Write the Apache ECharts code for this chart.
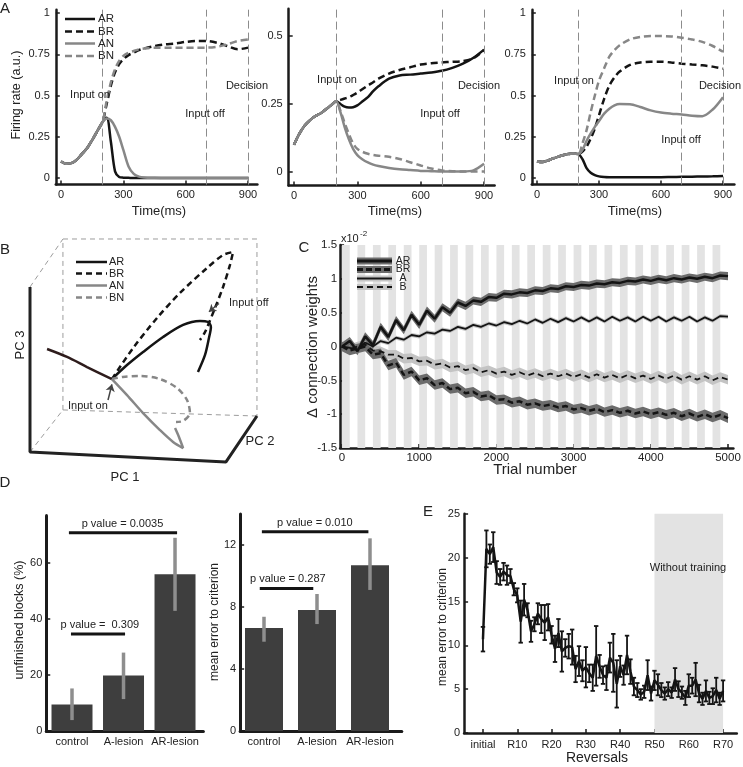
<!DOCTYPE html>
<html>
<head>
<meta charset="utf-8">
<script src="https://cdn.jsdelivr.net/npm/echarts@6.0.0/dist/echarts.min.js"></script>
<style>
html,body{margin:0;padding:0;background:#fff;}
#chart{width:743px;height:767px;}
</style>
</head>
<body>
<div id="chart"></div>
<script>
// ================= DATA =================
// ---- Panel A : firing rate (a.u.) vs time (ms)
const tA = [0,25,50,75,100,125,150,175,200,220,240,260,280,300,325,350,375,400,450,500,550,600,650,700,750,800,850,900];
const eventTimes = [200, 700, 900];
const aTicksX = [0, 300, 600, 900];
const aTicksY1 = [0, 0.25, 0.5, 0.75, 1];
const aTicksY2 = [0, 0.25, 0.5];

const pre1 = [0.10,0.087,0.09,0.11,0.145,0.18,0.23,0.285,0.34];
const a1AR = pre1.concat([0.365,0.22,0.04,0.006,0.002,0.001,0,0,0,0,0,0,0,0,0,0,0,0,0]);
const a1BR = pre1.concat([0.45,0.56,0.64,0.69,0.72,0.745,0.76,0.775,0.785,0.80,0.81,0.815,0.825,0.83,0.83,0.82,0.80,0.78,0.79]);
const a1AN = pre1.concat([0.36,0.35,0.31,0.25,0.17,0.07,0.025,0.008,0.003,0.001,0,0,0,0,0,0,0,0,0]);
const a1BN = pre1.concat([0.47,0.58,0.66,0.71,0.74,0.76,0.77,0.78,0.785,0.79,0.79,0.79,0.79,0.79,0.79,0.795,0.81,0.83,0.84]);

const pre2 = [0.10,0.14,0.17,0.19,0.205,0.215,0.23,0.245,0.26];
const a2AR = pre2.concat([0.25,0.24,0.237,0.238,0.245,0.26,0.275,0.297,0.315,0.343,0.355,0.358,0.362,0.366,0.372,0.383,0.398,0.42,0.45]);
const a2BR = pre2.concat([0.265,0.27,0.275,0.283,0.292,0.305,0.318,0.33,0.343,0.362,0.375,0.385,0.395,0.40,0.403,0.405,0.408,0.418,0.448]);
const a2AN = pre2.concat([0.22,0.165,0.12,0.085,0.062,0.046,0.035,0.027,0.022,0.015,0.01,0.007,0.004,0.003,0.002,0.002,0.002,0.006,0.03]);
const a2BN = pre2.concat([0.225,0.18,0.14,0.105,0.085,0.074,0.067,0.063,0.06,0.056,0.048,0.036,0.024,0.013,0.006,0.003,0.002,0.002,0.002]);

const pre3 = [0.10,0.097,0.105,0.117,0.128,0.138,0.145,0.148,0.145];
const a3AR = pre3.concat([0.115,0.06,0.032,0.018,0.01,0.006,0.005,0.005,0.005,0.005,0.005,0.005,0.005,0.006,0.007,0.008,0.009,0.01,0.012]);
const a3BR = pre3.concat([0.16,0.19,0.24,0.30,0.38,0.48,0.56,0.61,0.645,0.685,0.70,0.705,0.705,0.70,0.693,0.688,0.683,0.675,0.663]);
const a3AN = pre3.concat([0.17,0.225,0.27,0.31,0.345,0.39,0.42,0.44,0.448,0.447,0.43,0.41,0.397,0.39,0.385,0.378,0.375,0.415,0.49]);
const a3BN = pre3.concat([0.21,0.29,0.40,0.50,0.59,0.665,0.735,0.775,0.805,0.84,0.855,0.86,0.86,0.858,0.85,0.84,0.825,0.80,0.765]);

// ---- Panel B : projected PC trajectories [PC1-projection, PC3-projection]
const bPre = [[0.087,0.624],[0.189,0.576],[0.291,0.515],[0.418,0.442]];
const bAR = [[0.418,0.442],[0.495,0.527],[0.577,0.606],[0.679,0.697],[0.781,0.770],[0.867,0.794],[0.908,0.788],[0.923,0.758],[0.913,0.691],[0.893,0.588],[0.857,0.485]];
const bBR = [[0.418,0.442],[0.526,0.630],[0.648,0.812],[0.765,0.964],[0.903,1.115],[0.985,1.194],[1.036,1.212],[1.020,1.133],[0.985,1.0],[0.944,0.873],[0.893,0.727],[0.867,0.679]];
const bAN = [[0.418,0.442],[0.495,0.345],[0.577,0.236],[0.663,0.133],[0.730,0.061],[0.781,0.024],[0.760,0.091],[0.740,0.145]];
const bBN = [[0.418,0.442],[0.474,0.455],[0.561,0.461],[0.663,0.442],[0.750,0.388],[0.801,0.315],[0.816,0.236],[0.781,0.188],[0.745,0.182]];
const bAxes = [[0,1],[0,0],[1,-0.06],[1.158,0.218]];
const bBackBox = [[0.168,0.255],[0.168,1.291],[1.158,1.291],[1.158,0.218]];
const bBackBottom = [[0.168,0.255],[1.158,0.218]];
const bDiagTop = [[0,1],[0.168,1.291]];
const bDiagBottom = [[0,0],[0.168,0.255]];
const bArrowOn = [[0.398,0.315],[0.418,0.41]];
const bArrowOff = [[0.964,0.90],[0.913,0.85]];

// ---- Panel C : Δ connection weights (x10^-2) vs trial number
const tC = [0,100,200,300,400,500,600,700,800,900,1000,1100,1200,1300,1400,1500,1600,1700,1800,1900,2000,2100,2200,2300,2400,2500,2600,2700,2800,2900,3000,3100,3200,3300,3400,3500,3600,3700,3800,3900,4000,4100,4200,4300,4400,4500,4600,4700,4800,4900,5000];
const cAR = [0,0.08,-0.07,0.15,0.02,0.29,0.14,0.39,0.24,0.47,0.32,0.53,0.41,0.58,0.5,0.65,0.6,0.68,0.66,0.73,0.72,0.78,0.77,0.8,0.79,0.83,0.82,0.86,0.85,0.89,0.88,0.91,0.9,0.93,0.92,0.95,0.94,0.97,0.96,0.99,0.97,1.0,0.98,1.01,0.99,1.02,1.0,1.03,1.01,1.05,1.04];
const cBR = [0,-0.06,-0.03,0.0,-0.12,-0.1,-0.28,-0.24,-0.42,-0.37,-0.5,-0.47,-0.57,-0.54,-0.63,-0.61,-0.69,-0.67,-0.74,-0.72,-0.79,-0.78,-0.83,-0.81,-0.86,-0.84,-0.88,-0.86,-0.9,-0.88,-0.93,-0.91,-0.95,-0.92,-0.97,-0.94,-0.98,-0.95,-0.99,-0.96,-1.0,-0.97,-1.01,-0.98,-1.03,-0.99,-1.04,-1.0,-1.05,-1.01,-1.06];
const cA = [0,-0.02,-0.05,0.06,0.0,0.08,0.05,0.13,0.1,0.17,0.15,0.21,0.19,0.25,0.23,0.29,0.26,0.32,0.29,0.34,0.31,0.36,0.33,0.38,0.34,0.4,0.35,0.41,0.36,0.42,0.37,0.43,0.37,0.43,0.37,0.44,0.38,0.43,0.37,0.44,0.38,0.44,0.37,0.43,0.38,0.44,0.37,0.43,0.38,0.45,0.44];
const cB = [0,-0.04,0.0,0.03,-0.06,-0.07,-0.12,-0.12,-0.18,-0.17,-0.22,-0.21,-0.27,-0.25,-0.31,-0.29,-0.35,-0.32,-0.38,-0.35,-0.4,-0.37,-0.42,-0.38,-0.43,-0.39,-0.44,-0.4,-0.44,-0.4,-0.45,-0.41,-0.46,-0.41,-0.46,-0.42,-0.47,-0.42,-0.47,-0.43,-0.48,-0.43,-0.48,-0.43,-0.49,-0.44,-0.49,-0.44,-0.5,-0.45,-0.49];
const cBandAR = 0.06, cBandBR = 0.07, cBandA = 0.03, cBandB = 0.07;
const stripeStarts = [0,200,400,600,800,1000,1200,1400,1600,1800,2000,2200,2400,2600,2800,3000,3200,3400,3600,3800,4000,4200,4400,4600,4800];
const stripeLen = 100;
const cTicksX = [0,1000,2000,3000,4000,5000];
const cTicksY = [-1.5,-1,-0.5,0,0.5,1,1.5];

// ---- Panel D : lesion bars
const dCats = ['control','A-lesion','AR-lesion'];
const dPos = [1,2,3];
const d1Mean = [9.5, 19.8, 56];
const d1Lo = [3.9, 11.4, 42.9];
const d1Hi = [15.2, 28, 69];
const d1Sig = [{x1:0.94,x2:3.04,y:70.8,tx:1.98,text:'p value = 0.0035'},{x1:0.98,x2:2.03,y:34.6,tx:1.54,text:'p value =  0.309'}];
const d2Mean = [6.65, 7.8, 10.7];
const d2Lo = [5.76, 6.9, 9.1];
const d2Hi = [7.37, 8.84, 12.43];
const d2Sig = [{x1:0.96,x2:2.97,y:12.85,tx:1.96,text:'p value = 0.010'},{x1:0.92,x2:1.93,y:9.2,tx:1.45,text:'p value = 0.287'}];

// ---- Panel E : mean error to criterion per reversal
const eMean = [10.7,21.0,20.4,21.2,18.3,17.8,18.4,18.0,17.9,16.4,15.7,12.7,15.2,14.0,11.6,12.4,13.6,13.0,12.6,13.2,11.2,9.6,11.4,9.3,9.7,9.9,9.8,7.3,8.2,7.1,7.5,6.8,6.3,8.8,7.6,6.6,6.3,8.6,8.0,5.6,7.6,6.6,8.9,7.0,5.3,4.9,4.4,4.7,6.6,4.5,6.0,5.5,4.9,4.5,5.0,4.6,6.1,5.0,4.6,4.0,5.4,5.4,6.1,4.5,3.9,4.8,4.0,4.2,4.9,3.9,4.8];
const eErr = [1.4,2.1,1.1,1.7,1.3,0.9,1.0,1.1,0.8,0.7,0.8,2.4,1.8,0.8,1.2,0.8,1.2,1.6,2.0,1.5,1.0,1.5,1.6,2.3,1.0,1.4,2.0,1.5,1.7,1.2,2.3,1.0,1.5,3.4,1.3,1.0,1.4,1.7,3.3,2.7,1.2,1.1,2.2,1.4,1.0,0.8,0.6,0.7,1.7,0.8,1.1,1.2,0.8,0.7,0.8,0.6,1.3,0.9,0.7,0.8,1.3,0.9,1.9,1.0,0.7,1.2,0.7,0.9,1.4,0.7,1.2];
const eTickPos = [0,10,20,30,40,50,60,70];
const eTickLabels = ['initial','R10','R20','R30','R40','R50','R60','R70'];
const eNoTrain = [50, 70];
const eTicksY = [0,5,10,15,20,25];

// ================= CHART =================
const FONT = "'Liberation Sans', Arial, Helvetica, sans-serif";
const AX = '#1b1b1b';
const BLACK = '#141414', GREY = '#878787';

const grids = [
  {left:55.8, top:9.7, width:201.6, height:174.9},
  {left:288.7, top:8.8, width:205.9, height:176.8},
  {left:531.8, top:9.7, width:202.6, height:174.9},
  {left:10.4, top:229.25, width:254.8, height:255.75},
  {left:340.1, top:245, width:393.3, height:203},
  {left:46.25, top:515.4, width:157.1, height:215.6},
  {left:240.15, top:514, width:161.65, height:217},
  {left:464.1, top:513.8, width:272.7, height:219.2}
].map(g => Object.assign(g, {containLabel:false, outerBoundsMode:'none'}));

const plain = v => String(v);
function valAxis(gi, min, max, ticks, o) {
  o = o || {};
  return {
    type:'value', gridIndex:gi, min:min, max:max,
    axisLine:{show:true, onZero:false, lineStyle:{color:AX, width:o.lw || 2.5}},
    axisTick:{show:o.tick !== false, inside:true, length:4, customValues:ticks, lineStyle:{color:AX, width:1.5}},
    axisLabel:{show:true, customValues:ticks, margin:o.margin || 5, fontSize:o.fs || 11, color:'#222', fontFamily:FONT,
      formatter:o.fmt || plain},
    splitLine:{show:false}
  };
}
const hidden = (gi, min, max) => ({type:'value', gridIndex:gi, min:min, max:max, show:false, splitLine:{show:false}});

const xAxes = [
  valAxis(0, -25, 945, aTicksX),
  valAxis(1, -25, 950, aTicksX),
  valAxis(2, -25, 955, aTicksX),
  hidden(3, -0.1, 1.2),
  valAxis(4, -25, 5070, cTicksX, {fs:11.5, margin:4}),
  valAxis(5, 0.5, 3.55, dPos, {tick:false, lw:3, fs:11, margin:5, fmt:v => dCats[Math.round(v)-1]}),
  valAxis(6, 0.55, 3.6, dPos, {tick:false, lw:3, fs:11, margin:5, fmt:v => dCats[Math.round(v)-1]}),
  valAxis(7, -5.5, 74, eTickPos, {fs:11, margin:6, fmt:v => eTickLabels[eTickPos.indexOf(v)]})
];
const yAxes = [
  valAxis(0, -0.04, 1.02, aTicksY1, {margin:6}),
  valAxis(1, -0.05, 0.6, aTicksY2, {margin:6}),
  valAxis(2, -0.04, 1.02, aTicksY1, {margin:6}),
  hidden(3, -0.2, 1.35),
  valAxis(4, -1.5, 1.5, cTicksY, {fs:11.5, margin:3}),
  valAxis(5, 0, 77, [0,20,40,60], {lw:3, margin:4}),
  valAxis(6, 0, 14, [0,4,8,12], {lw:3, margin:4}),
  valAxis(7, 0, 25, eTicksY, {margin:4})
];

const series = [];
const sty = {
  AR:{color:BLACK, type:'solid'}, BR:{color:BLACK, type:[7,4]},
  AN:{color:GREY, type:'solid'}, BN:{color:GREY, type:[7,4]}
};

// ---- Panel A
const aPlots = [
  {g:0, AR:a1AR, BR:a1BR, AN:a1AN, BN:a1BN},
  {g:1, AR:a2AR, BR:a2BR, AN:a2AN, BN:a2BN},
  {g:2, AR:a3AR, BR:a3BR, AN:a3AN, BN:a3BN}
];
aPlots.forEach(p => {
  series.push({type:'line', xAxisIndex:p.g, yAxisIndex:p.g, data:[], silent:true, z:1,
    markLine:{silent:true, symbol:'none', label:{show:false}, animation:false,
      lineStyle:{color:'#8c8c8c', width:1, type:[8,4]},
      data:eventTimes.map(t => ({xAxis:t}))}});
  ['AR','BR','AN','BN'].forEach((k, j) => {
    series.push({type:'line', name:k, xAxisIndex:p.g, yAxisIndex:p.g, silent:true,
      data:tA.map((t, i) => [t, p[k][i]]), symbol:'none', showSymbol:false, smooth:0.3,
      lineStyle:{color:sty[k].color, width:2.5, type:sty[k].type}, z:3 + j});
  });
});

// ---- Panel B
function bLine(data, color, width, type, z, smooth) {
  return {type:'line', xAxisIndex:3, yAxisIndex:3, data:data, symbol:'none', showSymbol:false, silent:true,
    smooth:smooth || false, lineStyle:{color:color, width:width, type:type}, z:z};
}
series.push(bLine(bBackBox, '#9c9c9c', 1, [5,4], 2));
series.push(bLine(bBackBottom, '#9c9c9c', 1, [5,4], 2));
series.push(bLine(bDiagTop, '#9c9c9c', 1, [5,4], 2));
series.push(bLine(bDiagBottom, '#9c9c9c', 1, [5,4], 2));
series.push(bLine(bAxes, '#222', 3, 'solid', 3));
series.push(bLine(bPre, '#2e1c1c', 2.5, 'solid', 4, 0.3));
series.push(bLine(bAR, BLACK, 2.5, 'solid', 5, 0.3));
series.push(bLine(bBR, BLACK, 2.5, [6,4], 5, 0.3));
series.push(bLine(bAN, GREY, 2.5, 'solid', 6, 0.3));
series.push(bLine(bBN, GREY, 2.5, [6,4], 6, 0.3));
series.push({type:'lines', coordinateSystem:'cartesian2d', xAxisIndex:3, yAxisIndex:3, silent:true, z:7,
  symbol:['none','arrow'], symbolSize:7,
  lineStyle:{color:'#444', width:1.5, opacity:1, curveness:0},
  data:[{coords:bArrowOn}, {coords:bArrowOff}]});

// ---- Panel C
series.push({type:'custom', xAxisIndex:4, yAxisIndex:4, silent:true, z:1,
  data:stripeStarts.map(s => [s, s + stripeLen]),
  renderItem:function(params, api) {
    const a = api.coord([api.value(0), 1.5]);
    const b = api.coord([api.value(1), -1.5]);
    return {type:'rect', shape:{x:a[0], y:a[1], width:b[0]-a[0], height:b[1]-a[1]}, style:{fill:'#e3e3e3'}};
  }});
function band(ys, hw, color) {
  return {type:'custom', xAxisIndex:4, yAxisIndex:4, silent:true, z:2, clip:true,
    data:[[tC[0], ys[0]]],
    renderItem:function(params, api) {
      const pts = [];
      for (let i = 0; i < tC.length; i++) pts.push(api.coord([tC[i], ys[i] + hw]));
      for (let i = tC.length - 1; i >= 0; i--) pts.push(api.coord([tC[i], ys[i] - hw]));
      return {type:'polygon', shape:{points:pts}, style:{fill:color}};
    }};
}
series.push(band(cB, cBandB, '#c4c4c4'));
series.push(band(cA, cBandA, '#c4c4c4'));
series.push(band(cAR, cBandAR, '#6c6c6c'));
series.push(band(cBR, cBandBR, '#6c6c6c'));
function cLine(ys, width, type) {
  return {type:'line', xAxisIndex:4, yAxisIndex:4, silent:true, z:5, symbol:'none', showSymbol:false,
    data:tC.map((t, i) => [t, ys[i]]), lineStyle:{color:BLACK, width:width, type:type}};
}
series.push(cLine(cA, 1.8, 'solid'));
series.push(cLine(cB, 1.8, [6,4]));
series.push(cLine(cAR, 2.5, 'solid'));
series.push(cLine(cBR, 2.5, [6,3.5]));

// ---- Panel D
function errSeries(gi, xs, lo, hi, color, width, cap, z) {
  return {type:'custom', xAxisIndex:gi, yAxisIndex:gi, silent:true, z:z || 4,
    data:xs.map((x, i) => [x, lo[i], hi[i]]),
    renderItem:function(params, api) {
      const x = api.value(0);
      const a = api.coord([x, api.value(1)]);
      const b = api.coord([x, api.value(2)]);
      const st = {stroke:color, lineWidth:width};
      const ch = [{type:'line', shape:{x1:a[0], y1:a[1], x2:b[0], y2:b[1]}, style:st}];
      if (cap) {
        ch.push({type:'line', shape:{x1:a[0]-cap, y1:a[1], x2:a[0]+cap, y2:a[1]}, style:st});
        ch.push({type:'line', shape:{x1:b[0]-cap, y1:b[1], x2:b[0]+cap, y2:b[1]}, style:st});
      }
      return {type:'group', children:ch};
    }};
}
function sigSeries(gi, sigs) {
  return {type:'custom', xAxisIndex:gi, yAxisIndex:gi, silent:true, z:6,
    data:sigs.map(s => [s.tx, s.y]),
    renderItem:function(params, api) {
      const s = sigs[params.dataIndex];
      const a = api.coord([s.x1, s.y]), b = api.coord([s.x2, s.y]), c = api.coord([s.tx, s.y]);
      return {type:'group', children:[
        {type:'line', shape:{x1:a[0], y1:a[1], x2:b[0], y2:b[1]}, style:{stroke:BLACK, lineWidth:3}},
        {type:'text', x:c[0], y:c[1]-9, style:{text:s.text, font:'11px ' + FONT, fill:'#222',
          align:'center', verticalAlign:'middle', textAlign:'center', textVerticalAlign:'middle'}}
      ]};
    }};
}
series.push({type:'bar', xAxisIndex:5, yAxisIndex:5, silent:true, barWidth:41, z:2,
  data:dPos.map((x, i) => [x, d1Mean[i]]), itemStyle:{color:'#3e3e3e'}});
series.push(errSeries(5, dPos, d1Lo, d1Hi, '#8e8e8e', 3.5, 0, 4));
series.push(sigSeries(5, d1Sig));
series.push({type:'bar', xAxisIndex:6, yAxisIndex:6, silent:true, barWidth:38, z:2,
  data:dPos.map((x, i) => [x, d2Mean[i]]), itemStyle:{color:'#3e3e3e'}});
series.push(errSeries(6, dPos, d2Lo, d2Hi, '#8e8e8e', 3.5, 0, 4));
series.push(sigSeries(6, d2Sig));

// ---- Panel E
series.push({type:'custom', xAxisIndex:7, yAxisIndex:7, silent:true, z:1,
  data:[[eNoTrain[0], eNoTrain[1]]],
  renderItem:function(params, api) {
    const a = api.coord([api.value(0), 25]);
    const b = api.coord([api.value(1), 0]);
    return {type:'rect', shape:{x:a[0], y:a[1], width:b[0]-a[0], height:b[1]-a[1]}, style:{fill:'#e3e3e3'}};
  }});
series.push(errSeries(7, eMean.map((v, i) => i), eMean.map((v, i) => v - eErr[i]), eMean.map((v, i) => v + eErr[i]), '#141414', 1.8, 2.2, 3));
series.push({type:'line', xAxisIndex:7, yAxisIndex:7, silent:true, z:4, symbol:'none', showSymbol:false,
  data:eMean.map((v, i) => [i, v]), lineStyle:{color:'#141414', width:2.5}});

// ================= TEXT / LEGENDS =================
function T(text, x, y, size, o) {
  o = o || {};
  const al = o.align || 'center';
  return {type:'text', x:x, y:y, rotation:o.rot || 0, silent:true, z:100,
    style:{text:text, font:size + 'px ' + FONT, fill:o.color || '#222',
      textAlign:al, align:al, textVerticalAlign:'middle', verticalAlign:'middle'}};
}
function L(x1, y1, x2, y2, color, w, dash) {
  return {type:'line', silent:true, z:100, shape:{x1:x1, y1:y1, x2:x2, y2:y2},
    style:{stroke:color, lineWidth:w, lineDash:dash || null}};
}
function R(x, y, w, h, fill) {
  return {type:'rect', silent:true, z:99, shape:{x:x, y:y, width:w, height:h}, style:{fill:fill}};
}
const ROT = Math.PI / 2;
const G = [];
// panel letters
G.push(T('A', 5, 9, 15), T('B', 5, 250, 15), T('C', 304, 248, 15), T('D', 5, 483, 15), T('E', 428, 512, 15));
// panel A
G.push(T('Firing rate (a.u.)', 17, 95, 12.5, {rot:ROT}));
G.push(T('Time(ms)', 159, 211, 13), T('Time(ms)', 395, 211, 13), T('Time(ms)', 635, 211, 13));
G.push(T('Input on', 90, 95, 11), T('Input off', 205, 114, 11), T('Decision', 247, 86, 11));
G.push(T('Input on', 337, 80, 11), T('Input off', 440, 114, 11), T('Decision', 479, 86, 11));
G.push(T('Input on', 574, 81, 11), T('Input off', 681, 140, 11), T('Decision', 720, 86, 11));
const legRows = ['AR','BR','AN','BN'];
const legA = [19, 31.5, 43.5, 56];
legRows.forEach((k, i) => {
  G.push(L(65, legA[i], 95, legA[i], sty[k].color, 2.5, Array.isArray(sty[k].type) ? [7,4] : null));
  G.push(T(k, 98, legA[i], 11.5, {align:'left'}));
});
// panel B
const legB = [262, 273.5, 285.5, 297.5];
legRows.forEach((k, i) => {
  G.push(L(76, legB[i], 107, legB[i], sty[k].color, 2.5, Array.isArray(sty[k].type) ? [6,4] : null));
  G.push(T(k, 109, legB[i], 11, {align:'left'}));
});
G.push(T('Input on', 68, 406, 11, {align:'left'}), T('Input off', 229, 303, 11, {align:'left'}));
G.push(T('PC 3', 20, 345, 13, {rot:ROT}), T('PC 1', 125, 477, 13), T('PC 2', 260, 441, 13));
// panel C
G.push(T('x10', 341, 239, 11, {align:'left'}), T('-2', 360, 234, 8, {align:'left'}));
G.push(T('\u0394 connection weights', 313, 347, 15, {rot:ROT}), T('Trial number', 535, 470, 15));
const legC = [261, 269.5, 278.5, 287];
G.push(R(357, legC[0]-3.5, 35, 7, '#6c6c6c'), L(357, legC[0], 392, legC[0], BLACK, 3));
G.push(R(357, legC[1]-3.5, 35, 7, '#6c6c6c'), L(357, legC[1], 392, legC[1], BLACK, 3, [6,3]));
G.push(R(357, legC[2]-3, 35, 6, '#c4c4c4'), L(357, legC[2], 392, legC[2], BLACK, 1.8));
G.push(R(357, legC[3]-3, 35, 6, '#c4c4c4'), L(357, legC[3], 392, legC[3], BLACK, 1.8, [6,4]));
['AR','BR','A','B'].forEach((k, i) => G.push(T(k, 403, legC[i], 10.5)));
// panel D
G.push(T('unfinished blocks (%)', 20, 620, 12.5, {rot:ROT}), T('mean error to criterion', 215, 622, 12, {rot:ROT}));
// panel E
G.push(T('mean error to criterion', 443, 627, 12, {rot:ROT}), T('Reversals', 597, 758, 14), T('Without training', 688, 568, 11));

const chart = echarts.init(document.getElementById('chart'), null, {renderer:'canvas'});
chart.setOption({
  animation:false,
  backgroundColor:'#ffffff',
  textStyle:{fontFamily:FONT},
  grid:grids,
  xAxis:xAxes,
  yAxis:yAxes,
  series:series,
  graphic:G
});
</script>
</body>
</html>
